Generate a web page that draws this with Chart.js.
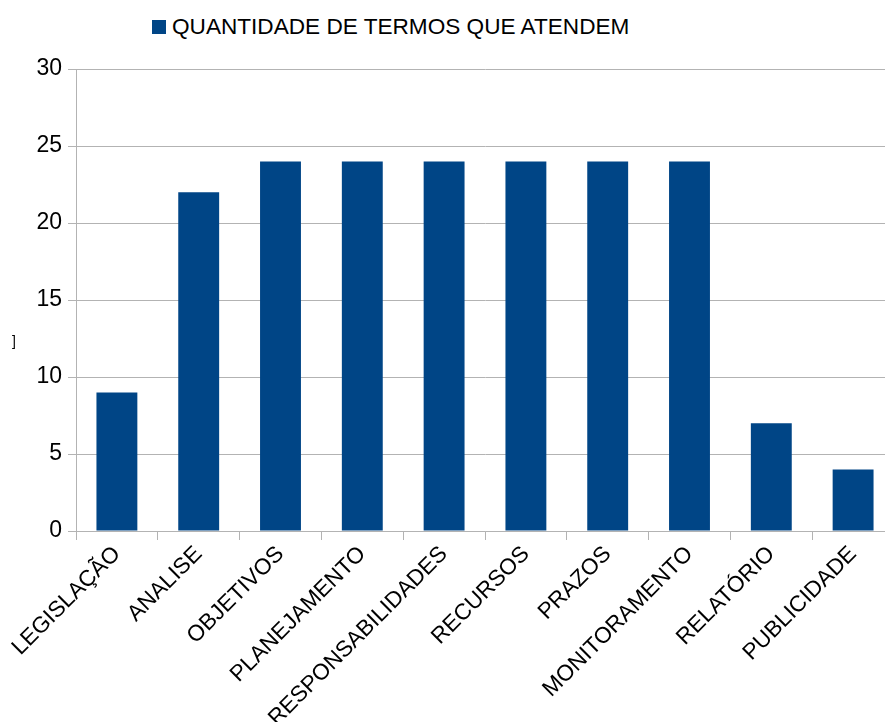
<!DOCTYPE html>
<html>
<head>
<meta charset="utf-8">
<script src="https://cdn.jsdelivr.net/npm/chart.js@4/dist/chart.umd.min.js"></script>
<style>
    body{margin:0;overflow:hidden;background:#fff;font-family:"Liberation Sans",Arial,sans-serif;}
    #legenda{position:absolute;left:152px;top:14px;font-size:22.6px;color:#000;display:flex;align-items:center;}
    #legenda span{display:inline-block;width:14px;height:14px;background:#004586;margin-right:6px;}
    #grafico{position:absolute;left:0;top:0;}
</style>
</head>
<body>
<div id="legenda"><span></span>QUANTIDADE DE TERMOS QUE ATENDEM</div>
<canvas id="grafico" width="900" height="722"></canvas>
<script>
const categorias=['LEGISLAÇÃO','ANALISE','OBJETIVOS','PLANEJAMENTO','RESPONSABILIDADES','RECURSOS','PRAZOS','MONITORAMENTO','RELATÓRIO','PUBLICIDADE'];
const quantidades=[9,22,24,24,24,24,24,24,7,4];
const serie='QUANTIDADE DE TERMOS QUE ATENDEM';
const ticksY=[0,5,10,15,20,25,30];

const cinza='#b3b3b3';
const fonteX={family:'"Liberation Sans", Arial, sans-serif',size:22.5};
const fonteY={family:'"Liberation Sans", Arial, sans-serif',size:23};

//titulo do eixo y (cortado na esquerda)
const tituloY={
    id:'tituloY',
    afterDraw:(chart)=>{
        const ctx=chart.ctx;
        ctx.save();
        ctx.fillStyle='#000';
        ctx.font='14px "Liberation Sans", Arial, sans-serif';
        ctx.textBaseline='middle';
        ctx.fillText(']',12,342);
        ctx.restore();
    }
};

const ctx=document.getElementById('grafico');
const grafico=new Chart(ctx,{
    type:'bar',
    data:{
        labels:categorias,
        datasets:[{
            label:serie,
            data:quantidades,
            backgroundColor:'#004586',
            barPercentage:0.5,
            categoryPercentage:1
        }]
    },
    options:{
        responsive:false,
        animation:false,
        layout:{padding:{top:69,right:6,left:0,bottom:0}},
        plugins:{legend:{display:false},tooltip:{enabled:false}},
        scales:{
            x:{
                grid:{offset:true,drawOnChartArea:false,color:cinza,tickLength:9},
                border:{color:cinza},
                ticks:{color:'#000',font:fonteX,autoSkip:false,minRotation:45,maxRotation:45,padding:1},
                afterFit:(scale)=>{scale.height=191;}
            },
            y:{
                min:0,
                max:30,
                grid:{color:cinza,tickLength:8},
                border:{color:cinza},
                afterBuildTicks:(scale)=>{scale.ticks=ticksY.map(v=>({value:v}));},
                ticks:{color:'#000',font:fonteY,padding:6},
                afterFit:(scale)=>{scale.width=76;}
            }
        }
    },
    plugins:[tituloY]
});
</script>
</body>
</html>
